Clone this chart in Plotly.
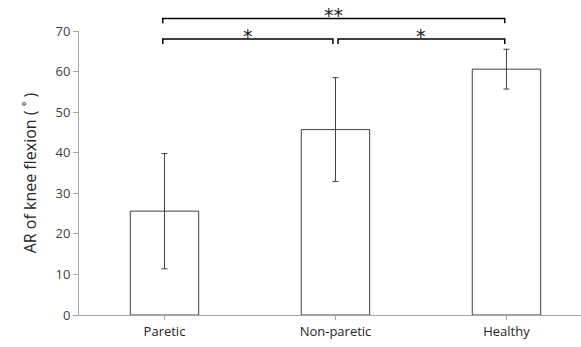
import plotly.graph_objects as go

categories = ["Paretic", "Non-paretic", "Healthy"]
means = [25.6, 45.7, 60.6]
sds = [14.2, 12.8, 4.9]
y_ticks = [0, 10, 20, 30, 40, 50, 60, 70]

# significance comparisons: (from index, to index, label, level value in axis units)
comparisons = [(0, 1, "*", 68.0), (1, 2, "*", 68.0), (0, 2, "**", 73.1)]

Y_MAX = 70
fig = go.Figure()
fig.add_trace(go.Bar(
    x=list(range(len(categories))), y=means,
    width=0.4,
    marker=dict(color="white", line=dict(color="#404040", width=1)),
    error_y=dict(type="data", array=sds, visible=True, color="#404040", thickness=1, width=3),
    showlegend=False,
))

shapes = []
annotations = []
hook = 1.2  # hook length in axis units
gap = 0.015
for i, j, label, lvl in comparisons:
    x0 = i - 0.01
    x1 = j - 0.01
    if i == 1:
        x0 = i + gap
    if j == 1:
        x1 = j - gap
    yl = lvl / Y_MAX
    yh = (lvl - hook) / Y_MAX
    shapes.append(dict(type="path", xref="x", yref="paper",
                       path=f"M {x0},{yh} L {x0},{yl} L {x1},{yl} L {x1},{yh}",
                       line=dict(color="black", width=1.5)))
    annotations.append(dict(x=(x0 + x1) / 2, y=yl, xref="x", yref="paper",
                            text=label, showarrow=False, yanchor="bottom", yshift=-10,
                            font=dict(size=19, color="#202020", family="DejaVu Sans")))

fig.update_layout(
    width=581, height=347,
    margin=dict(l=79, r=0, t=31, b=32),
    plot_bgcolor="white", paper_bgcolor="white",
    font=dict(family="Open Sans", size=13, color="#404040"),
    shapes=shapes, annotations=annotations,
    bargap=0.6,
)
fig.update_xaxes(
    range=[-0.5, 2.436],
    tickvals=list(range(len(categories))), ticktext=categories,
    tickson="boundaries", ticks="outside", ticklen=4, tickcolor="#a6a6a6",
    showline=True, linecolor="#a6a6a6", linewidth=1,
    showgrid=False, zeroline=False,
    tickfont=dict(size=13, color="#262626"),
)
fig.update_yaxes(
    range=[0, Y_MAX], tickvals=y_ticks,
    ticks="outside", ticklen=5, tickcolor="#a6a6a6",
    showline=True, linecolor="#a6a6a6", linewidth=1,
    showgrid=False, zeroline=False,
    tickfont=dict(size=13, color="#404040"),
    title=dict(text="AR of knee flexion ( ˚ )", font=dict(size=16, color="#262626"), standoff=14),
)
fig.write_html("out.html")
